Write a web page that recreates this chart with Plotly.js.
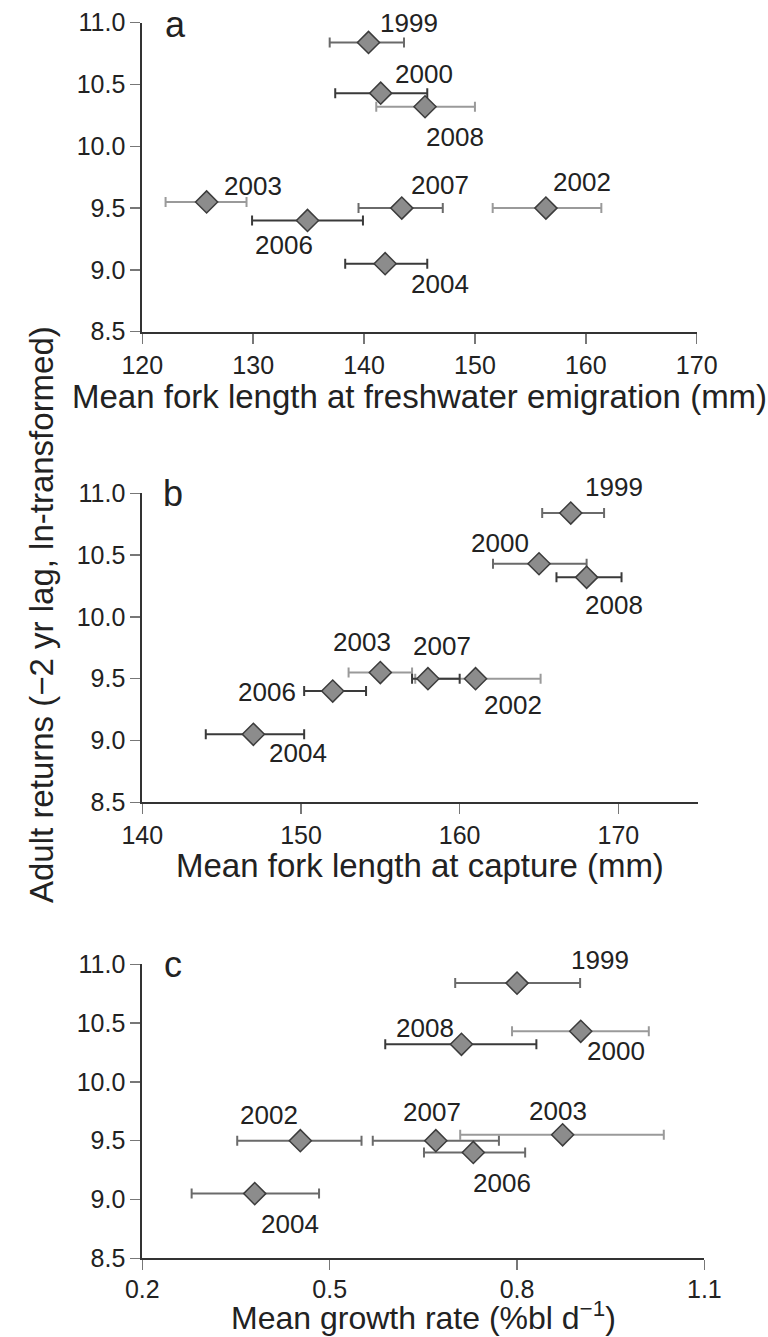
<!DOCTYPE html>
<html>
<head>
<meta charset="utf-8">
<script src="https://cdn.plot.ly/plotly-3.0.1.min.js"></script>
<style>html,body{margin:0;padding:0;background:#fff;}#chart{width:768px;height:1337px;}</style>
</head>
<body>
<div id="chart"></div>
<script>
// ---------------- DATA ----------------
const years = ["1999", "2000", "2002", "2003", "2004", "2006", "2007", "2008"];
const adultReturns = [10.84, 10.43, 9.50, 9.55, 9.05, 9.40, 9.50, 10.32];

// (a) mean fork length at freshwater emigration (mm)
const emigLengthMean = [140.4, 141.5, 156.4, 125.8, 141.9, 134.9, 143.4, 145.5];
const emigLengthLow  = [136.9, 137.4, 151.6, 122.1, 138.3, 129.9, 139.5, 141.1];
const emigLengthHigh = [143.6, 145.7, 161.4, 129.4, 145.7, 139.9, 147.1, 150.0];

// (b) mean fork length at capture (mm)
const captLengthMean = [167.0, 165.0, 161.0, 155.0, 147.0, 152.0, 158.0, 168.0];
const captLengthLow  = [165.2, 162.1, 157.2, 153.0, 144.0, 150.2, 157.0, 166.1];
const captLengthHigh = [169.1, 168.0, 165.1, 157.0, 150.2, 154.1, 160.0, 170.2];

// (c) mean growth rate (%bl d-1)
const growthMean = [0.800, 0.902, 0.453, 0.873, 0.380, 0.730, 0.670, 0.711];
const growthLow  = [0.701, 0.792, 0.352, 0.709, 0.279, 0.651, 0.569, 0.589];
const growthHigh = [0.901, 1.011, 0.551, 1.035, 0.483, 0.813, 0.771, 0.831];

const yTicks = [8.5, 9.0, 9.5, 10.0, 10.5, 11.0];
const xTicksA = [120, 130, 140, 150, 160, 170];
const xTicksB = [140, 150, 160, 170];
const xTicksC = [0.2, 0.5, 0.8, 1.1];

const titleA = "Mean fork length at freshwater emigration (mm)";
const titleB = "Mean fork length at capture (mm)";
const titleC = "Mean growth rate (%bl d<sup>\u22121</sup>)";
const titleY = "Adult returns (\u22122 yr lag, ln-transformed)";

// ---------------- STYLE ----------------
const W = 768, H = 1337;
const DARK = "#3a3a3a", MID = "#6a6a6a", LIGHT = "#9a9a9a";
// error bar colour per year (order of `years`)
const barColA = [MID, DARK, LIGHT, LIGHT, DARK, DARK, MID, LIGHT];
const barColB = [MID, MID, LIGHT, LIGHT, DARK, DARK, DARK, DARK];
const barColC = [MID, LIGHT, MID, LIGHT, MID, MID, MID, DARK];
// label offsets in px (dx right, dy down), order of `years`
const offA = [[40,-19],[43,-19],[36,-26],[46,-16],[55,20],[-24,25],[38,-23],[30,30]];
const offB = [[43,-26],[-39,-21],[37,26],[-18,-31],[45,19],[-66,1],[14,-33],[27,28]];
const offC = [[83,-23],[35,20],[-31,-26],[-5,-24],[35,30],[29,31],[-4,-29],[-36,-16]];

const FONT = "Liberation Sans, Arial, Helvetica, sans-serif";
const TXT = "#222";

const panels = [
  {xa: "x",  ya: "y",  mean: emigLengthMean, lo: emigLengthLow, hi: emigLengthHigh, col: barColA, off: offA},
  {xa: "x2", ya: "y2", mean: captLengthMean, lo: captLengthLow, hi: captLengthHigh, col: barColB, off: offB},
  {xa: "x3", ya: "y3", mean: growthMean,     lo: growthLow,     hi: growthHigh,     col: barColC, off: offC}
];

const traces = [];
const annotations = [];
panels.forEach(p => {
  // error bars first (underneath)
  years.forEach((yr, i) => {
    traces.push({
      type: "scatter", mode: "markers", xaxis: p.xa, yaxis: p.ya,
      x: [p.mean[i]], y: [adultReturns[i]],
      marker: {size: 1, opacity: 0},
      error_x: {type: "data", symmetric: false,
        array: [p.hi[i] - p.mean[i]], arrayminus: [p.mean[i] - p.lo[i]],
        color: p.col[i], thickness: 2, width: 5},
      showlegend: false, hoverinfo: "skip", cliponaxis: false
    });
  });
  // diamonds on top
  traces.push({
    type: "scatter", mode: "markers", xaxis: p.xa, yaxis: p.ya,
    x: p.mean, y: adultReturns,
    marker: {symbol: "diamond", size: 17, color: "#8c8c8c", line: {color: "#3c3c3c", width: 1.5}},
    showlegend: false, cliponaxis: false
  });
  years.forEach((yr, i) => {
    annotations.push({
      xref: p.xa, yref: p.ya, x: p.mean[i], y: adultReturns[i],
      text: yr, showarrow: false, xanchor: "center", yanchor: "middle",
      xshift: p.off[i][0], yshift: -p.off[i][1],
      font: {family: FONT, size: 26, color: TXT}
    });
  });
});

function px2x(px) { return px / W; }
function py2y(py) { return 1 - py / H; }

const axisBase = {
  showline: true, linecolor: "#333", linewidth: 2,
  ticks: "outside", ticklen: 10, tickwidth: 1.5, tickcolor: "#777",
  showgrid: false, zeroline: false, fixedrange: true,
  tickfont: {family: FONT, size: 25, color: TXT}
};
function yAxis(anchor, top, bottom) {
  return Object.assign({}, axisBase, {
    anchor: anchor, range: [8.5, 11.0], tickvals: yTicks, tickformat: ".1f",
    domain: [py2y(bottom), py2y(top)]
  });
}
function xAxis(anchor, range, ticks, fmt, left, right) {
  return Object.assign({}, axisBase, {
    anchor: anchor, range: range, tickvals: ticks, tickformat: fmt,
    domain: [px2x(left), px2x(right)]
  });
}

// titles & panel letters as annotations
const titleFont = {family: FONT, size: 33, color: TXT};
annotations.push(
  {xref: "paper", yref: "paper", x: px2x(419.5), y: py2y(396), text: titleA, showarrow: false, xanchor: "center", yanchor: "middle", font: titleFont},
  {xref: "paper", yref: "paper", x: px2x(419.5), y: py2y(866), text: titleB, showarrow: false, xanchor: "center", yanchor: "middle", font: titleFont},
  {xref: "paper", yref: "paper", x: px2x(423),   y: py2y(1316), text: titleC, showarrow: false, xanchor: "center", yanchor: "middle", font: {family: FONT, size: 32, color: TXT}},
  {xref: "paper", yref: "paper", x: px2x(42),    y: py2y(615), text: titleY, showarrow: false, textangle: -90, xanchor: "center", yanchor: "middle", font: titleFont},
  {xref: "paper", yref: "paper", x: px2x(175), y: py2y(24),  text: "a", showarrow: false, xanchor: "center", yanchor: "middle", font: {family: FONT, size: 36, color: TXT}},
  {xref: "paper", yref: "paper", x: px2x(173), y: py2y(494), text: "b", showarrow: false, xanchor: "center", yanchor: "middle", font: {family: FONT, size: 36, color: TXT}},
  {xref: "paper", yref: "paper", x: px2x(173), y: py2y(964), text: "c", showarrow: false, xanchor: "center", yanchor: "middle", font: {family: FONT, size: 36, color: TXT}}
);

const layout = {
  width: W, height: H,
  margin: {l: 0, r: 0, t: 0, b: 0, pad: 0},
  paper_bgcolor: "#fff", plot_bgcolor: "#fff",
  showlegend: false,
  xaxis:  xAxis("y",  [120, 170], xTicksA, "d",   142.3, 696.7),
  yaxis:  yAxis("x",  22.7, 331.7),
  xaxis2: xAxis("y2", [140, 175], xTicksB, "d",   142.3, 697.7),
  yaxis2: yAxis("x2", 493.3, 802.3),
  xaxis3: Object.assign(xAxis("y3", [0.2, 1.1], xTicksC, ".1f", 142.3, 704.4), {ticklabelstandoff: -2}),
  yaxis3: yAxis("x3", 964.3, 1258.3),
  annotations: annotations,
  font: {family: FONT, color: TXT}
};

Plotly.newPlot("chart", traces, layout, {displayModeBar: false, staticPlot: true});
</script>
</body>
</html>
